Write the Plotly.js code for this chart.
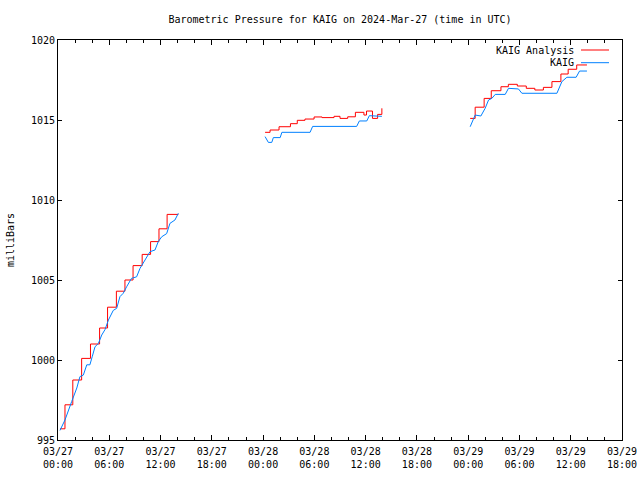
<!DOCTYPE html>
<html>
<head>
<meta charset="utf-8">
<script src="https://cdn.plot.ly/plotly-3.0.1.min.js"></script>
<style>html,body{margin:0;padding:0;background:#fff;}#chart{width:640px;height:480px;}</style>
</head>
<body>
<div id="chart"></div>
<script>
// Hours since 2024-03-27 00:00 UTC (null = data gap)
const analysisHours = [0.23,0.82,1.74,2.77,3.8,4.86,5.8,6.83,7.84,8.78,9.85,10.83,11.82,12.76,14.08,null,
  24.23,24.82,25.87,27.2,28.0,28.9,29.97,30.9,32.3,33.0,33.9,34.8,35.8,36.1,36.8,37.4,37.9,null,
  48.23,48.82,49.87,50.7,51.83,52.7,53.75,54.8,55.8,56.8,57.8,58.85,59.7,60.7,61.9];
const analysisMb = [995.7,997.2,998.75,1000.1,1001.0,1002.0,1003.3,1004.3,1005.0,1005.9,1006.6,1007.4,1008.2,1009.1,1009.1,null,
  1014.23,1014.375,1014.58,1014.77,1014.98,1015.06,1015.19,1015.15,1015.23,1015.1,1015.2,1015.48,1015.31,1015.56,1015.1,1015.35,1015.73,null,
  1015.1,1015.8,1016.35,1016.83,1017.08,1017.23,1017.125,1016.98,1016.875,1017.04,1017.4,1017.875,1018.17,1018.44,1018.44];

const obsHours = [0.23,0.82,1.6,1.8,2.2,2.57,2.96,3.36,3.74,4.0,4.33,4.73,5.12,5.5,5.9,6.47,6.87,7.25,7.64,8.04,8.6,9.2,9.6,10.18,10.77,11.35,11.74,12.13,12.71,13.1,13.69,14.08,null,
  24.23,24.62,25.02,25.2,26.0,26.2,29.5,29.8,34.95,35.27,36.13,36.44,37.9,null,
  48.23,48.82,49.49,49.99,50.38,50.77,51.16,52.33,52.72,53.89,54.29,58.38,58.96,59.55,60.64,61.03,61.9];
const obsMb = [995.6,996.25,997.4,997.7,998.25,998.96,999.06,999.7,999.7,1000.2,1000.83,1001.04,1001.56,1001.9,1002.5,1003.1,1003.23,1003.96,1004.17,1004.58,1005.1,1005.2,1005.73,1006.25,1006.77,1006.875,1007.4,1007.7,1007.9,1008.54,1008.75,1009.17,null,
  1013.96,1013.6,1013.6,1013.9,1013.9,1014.23,1014.23,1014.6,1014.6,1014.94,1014.94,1015.27,1015.23,null,
  1014.58,1015.31,1015.25,1015.73,1016.25,1016.35,1016.6,1016.6,1016.98,1016.94,1016.67,1016.67,1017.4,1017.67,1017.67,1018.06,1018.06];

const tickHours = [0,6,12,18,24,30,36,42,48,54,60,66];
const tickLabels = ["03/27<br>00:00","03/27<br>06:00","03/27<br>12:00","03/27<br>18:00",
  "03/28<br>00:00","03/28<br>06:00","03/28<br>12:00","03/28<br>18:00",
  "03/29<br>00:00","03/29<br>06:00","03/29<br>12:00","03/29<br>18:00"];
const yTicks = [995,1000,1005,1010,1015,1020];

function ts(h){
  if(h===null) return null;
  const d = new Date(Date.UTC(2024,2,27) + Math.round(h*60)*60000);
  return d.toISOString().slice(0,16).replace('T',' ');
}

const FONT = {family:'"DejaVu Sans Mono", "Liberation Mono", monospace', size:10, color:'#000'};

const traces = [
  {x: analysisHours.map(ts), y: analysisMb, type:'scatter', mode:'lines', name:'KAIG Analysis',
   line:{color:'#ff0000', width:1, shape:'hv'}, connectgaps:false},
  {x: obsHours.map(ts), y: obsMb, type:'scatter', mode:'lines', name:'KAIG',
   line:{color:'#0080ff', width:1}, connectgaps:false}
];

const L = 58, R = 622, T = 40, B = 440;
function px(x){return (x-L)/(R-L);}
function py(y){return 1-(y-T)/(B-T);}

const layout = {
  width:640, height:480,
  margin:{l:58, r:18, t:40, b:40},
  paper_bgcolor:'#fff', plot_bgcolor:'#fff',
  font: FONT,
  showlegend:false,
  title:{text:'Barometric Pressure for KAIG on 2024-Mar-27 (time in UTC)', font:FONT,
    x:0.5, xref:'paper', xanchor:'center', y:1-19/480, yref:'container', yanchor:'middle'},
  xaxis:{type:'date', range:[ts(0), ts(66)], tickvals: tickHours.map(ts), ticktext: tickLabels,
    showgrid:false, zeroline:false, showline:true, linecolor:'#000', linewidth:1, mirror:'ticks',
    ticks:'inside', ticklen:5, tickcolor:'#000', tickfont:FONT, ticklabelstandoff:2,
    minor:{dtick:2*3600*1000, ticks:'inside', ticklen:3, tickcolor:'#000', showgrid:false}},
  yaxis:{range:[995,1020], tickvals:yTicks, ticktext:yTicks.map(String),
    showgrid:false, zeroline:false, showline:true, linecolor:'#000', linewidth:1, mirror:'ticks',
    ticks:'inside', ticklen:4, tickcolor:'#000', tickfont:FONT,
    title:{text:'milliBars', font:FONT, standoff:14}},
  annotations:[
    {text:'KAIG Analysis', xref:'paper', yref:'paper', x:px(576), y:py(50), xanchor:'right', yanchor:'middle', showarrow:false, font:FONT},
    {text:'KAIG', xref:'paper', yref:'paper', x:px(576), y:py(62.7), xanchor:'right', yanchor:'middle', showarrow:false, font:FONT}
  ],
  shapes:[
    {type:'line', xref:'paper', yref:'paper', x0:px(581), x1:px(609), y0:py(50), y1:py(50), line:{color:'#ff0000', width:1}},
    {type:'line', xref:'paper', yref:'paper', x0:px(581), x1:px(609), y0:py(62.7), y1:py(62.7), line:{color:'#0080ff', width:1}}
  ]
};

Plotly.newPlot('chart', traces, layout, {staticPlot:true, displayModeBar:false});
</script>
</body>
</html>
